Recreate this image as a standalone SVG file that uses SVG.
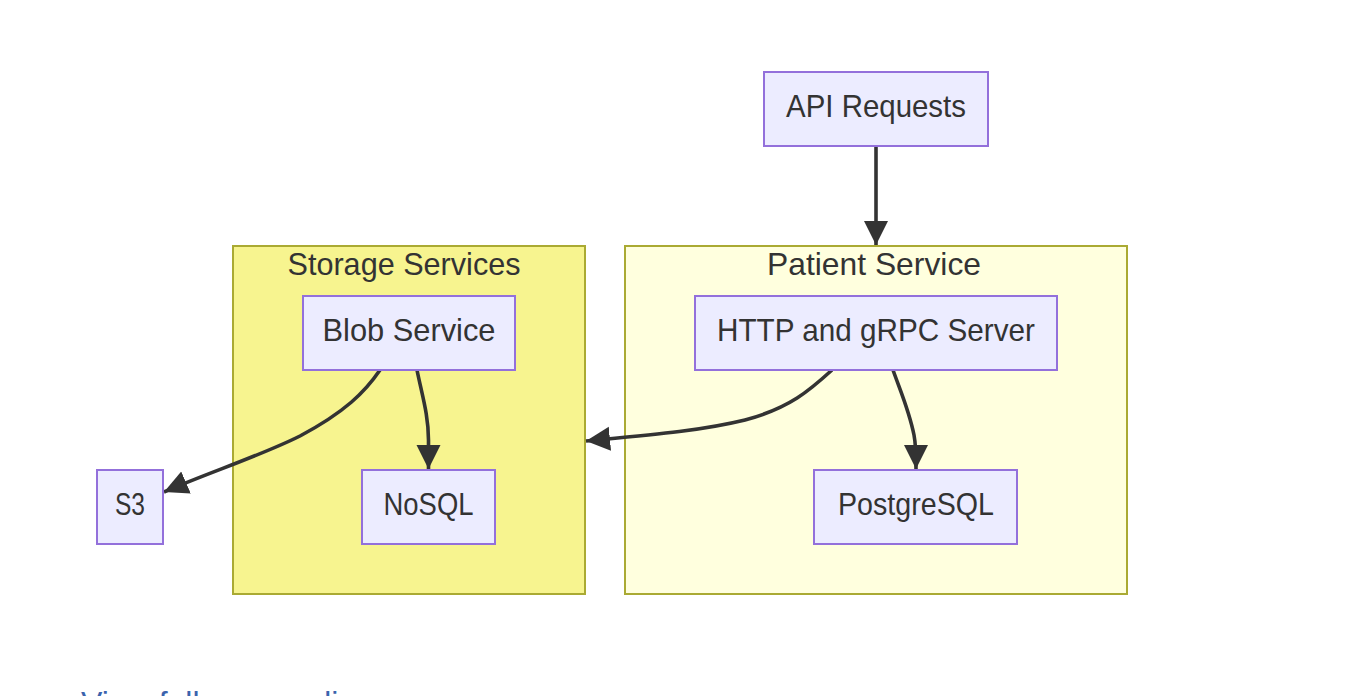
<svg xmlns="http://www.w3.org/2000/svg" width="1352" height="696" viewBox="0 0 1352 696">
<style>
  .node rect { fill: #ECECFF; stroke: #9370DB; stroke-width: 2; }
  .cluster rect { stroke: #aaaa33; stroke-width: 2; }
  text { font-family: "Liberation Sans", Arial, sans-serif; font-size: 30.5px; fill: #333333; text-anchor: middle; }
  .edge { fill: none; stroke: #333333; stroke-width: 3.6; marker-end: url(#arrow); }
  .link { fill: #3b63ad; text-anchor: start; font-size: 32px; }
</style>
<defs>
  <marker id="arrow" markerUnits="userSpaceOnUse" markerWidth="26" markerHeight="26" refX="24" refY="12" orient="auto" viewBox="0 0 26 26">
    <path d="M0,0 L24,12 L0,24 z" fill="#333333"/>
  </marker>
</defs>
<rect width="1352" height="696" fill="#ffffff"/>

<g id="cluster-storage" class="cluster">
  <rect x="233" y="246" width="352" height="348" fill="#f7f48f"/>
  <text x="404" y="275" textLength="233" lengthAdjust="spacingAndGlyphs">Storage Services</text>
</g>
<g id="cluster-patient" class="cluster">
  <rect x="625" y="246" width="502" height="348" fill="#ffffde"/>
  <text x="874" y="275" textLength="214" lengthAdjust="spacingAndGlyphs">Patient Service</text>
</g>

<g id="connectors">
  <path class="edge" d="M876,146 L876,245"/>
  <path class="edge" d="M380,370 C365,392 345,412 300,436 C260,456 210,472 164,492"/>
  <path class="edge" d="M417,370 C422,395 428.5,415 428.5,440 L428.5,469"/>
  <path class="edge" d="M832,370 C810,390 790,408 745,420 C700,431 650,435 586,441"/>
  <path class="edge" d="M893,370 C900,390 909,410 914,435 C916,445 916,455 916,469"/>
</g>

<g id="node-api" class="node">
  <rect x="764" y="72" width="224" height="74"/>
  <text x="876" y="117" textLength="180" lengthAdjust="spacingAndGlyphs">API Requests</text>
</g>
<g id="node-blob" class="node">
  <rect x="303" y="296" width="212" height="74"/>
  <text x="409" y="340.5" textLength="173" lengthAdjust="spacingAndGlyphs">Blob Service</text>
</g>
<g id="node-nosql" class="node">
  <rect x="362" y="470" width="133" height="74"/>
  <text x="428.5" y="515" textLength="90" lengthAdjust="spacingAndGlyphs">NoSQL</text>
</g>
<g id="node-s3" class="node">
  <rect x="97" y="470" width="66" height="74"/>
  <text x="130" y="515" textLength="30" lengthAdjust="spacingAndGlyphs">S3</text>
</g>
<g id="node-http" class="node">
  <rect x="695" y="296" width="362" height="74"/>
  <text x="876" y="341" textLength="318" lengthAdjust="spacingAndGlyphs">HTTP and gRPC Server</text>
</g>
<g id="node-postgres" class="node">
  <rect x="814" y="470" width="203" height="74"/>
  <text x="916" y="515" textLength="156" lengthAdjust="spacingAndGlyphs">PostgreSQL</text>
</g>

<text class="link" x="81" y="714">View full source diagram</text>
</svg>
